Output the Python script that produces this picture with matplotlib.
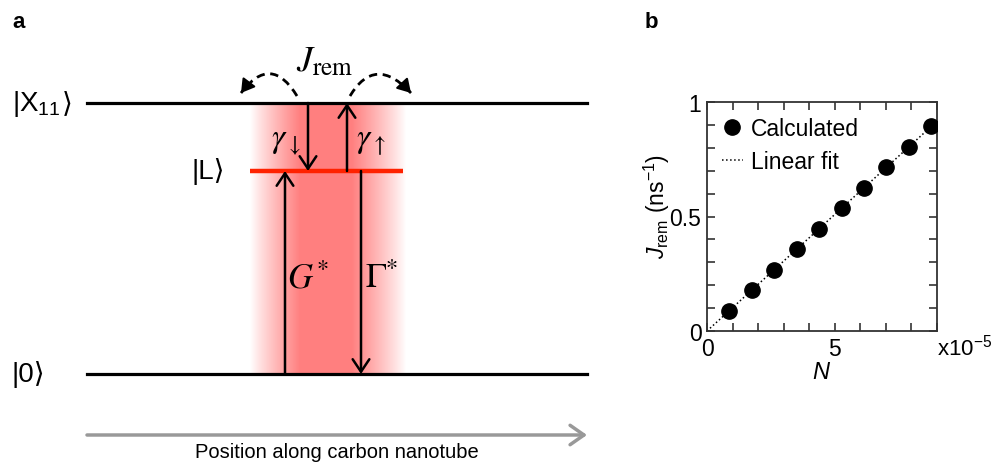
import numpy as np
import matplotlib
matplotlib.use("Agg")
import matplotlib.pyplot as plt
from matplotlib.path import Path
from matplotlib.patches import PathPatch, FancyArrowPatch

plt.rcParams['font.family'] = ['Liberation Sans', 'DejaVu Sans']
plt.rcParams['mathtext.fontset'] = 'custom'
plt.rcParams['mathtext.rm'] = 'Liberation Sans'
plt.rcParams['mathtext.it'] = 'Liberation Sans:italic'
plt.rcParams['mathtext.bf'] = 'Liberation Sans:bold'

# panel b data (N in units of 1e-5, J_rem in ns^-1)
N_vals = [0.88, 1.76, 2.63, 3.51, 4.40, 5.27, 6.14, 7.01, 7.89, 8.78]
J_vals = [0.087, 0.177, 0.267, 0.356, 0.446, 0.536, 0.626, 0.715, 0.805, 0.895]
fit_slope = 0.1018
xtick_vals = list(range(10))
xtick_labels = ['0', '', '', '', '', '5', '', '', '', '']
ytick_vals = [i / 10 for i in range(11)]
ytick_labels = ['0', '', '', '', '', '0.5', '', '', '', '', '1']

# panel a level names
level_names = [r"$|\mathrm{X}_{11}$", "|L⟩", "|0⟩"]

W, H = 992, 464
fig = plt.figure(figsize=(W / 100, H / 100), dpi=100)

# ---------------- panel a : drawn in pixel coords ----------------
ax = fig.add_axes([0, 0, 1, 1])
ax.set_xlim(0, W)
ax.set_ylim(H, 0)
ax.axis('off')

yX, yL, y0 = 104, 172, 375
xl, xr = 87, 587

# red glow band
bx0, bx1 = 250, 406
xs = np.linspace(bx0, bx1, 300)
alpha = np.interp(xs, [bx0, 300, 352, bx1], [0, 1, 1, 0]) ** 0.9
img = np.zeros((2, len(xs), 4))
img[..., 0] = 1.0
img[..., 1] = 0.5
img[..., 2] = 0.5
img[..., 3] = alpha
ax.imshow(img, extent=(bx0, bx1, y0, yX), aspect='auto', interpolation='bilinear', zorder=1)

# levels
ax.plot([xl, xr], [yX, yX], color='black', lw=2.3, zorder=3)
ax.plot([xl, xr], [y0, y0], color='black', lw=2.3, zorder=3)
ax.plot([250, 403], [yL, yL], color='#ff2200', lw=3.2, zorder=3, solid_capstyle='butt')

tX = ax.text(12, yX, level_names[0], fontsize=20, ha='left', va='center')
ax.annotate("⟩", xy=(1, 0.5), xycoords=tX, xytext=(1, 0), textcoords='offset points',
            fontsize=20, ha='left', va='center')
ax.text(192, yL, level_names[1], fontsize=20, ha='left', va='center')
ax.text(12, y0, level_names[2], fontsize=20, ha='left', va='center')


def varrow(x, ya, yb):
    a = FancyArrowPatch((x, ya), (x, yb), arrowstyle='->,head_length=0.45,head_width=0.3',
                        mutation_scale=20, lw=1.8, color='black', shrinkA=0, shrinkB=0, zorder=4)
    ax.add_patch(a)


varrow(308, yX, yL)
varrow(347, yL, yX)
varrow(285, y0, yL)
varrow(361, yL, y0)

stix = dict(math_fontfamily='stix')
ax.text(271, 143, r"$\gamma_{\downarrow}$", fontsize=24, ha='left', va='center', **stix)
ax.text(356, 143, r"$\gamma_{\uparrow}$", fontsize=24, ha='left', va='center', **stix)
ax.text(287, 279, r"$G^{*}$", fontsize=25, ha='left', va='center', **stix)
ax.text(365, 279, r"$\Gamma^{*}$", fontsize=25, ha='left', va='center', **stix)
ax.text(296, 62, r"$J_{\mathrm{rem}}$", fontsize=26, ha='left', va='center', **stix)

# dashed hopping arcs
for p0, c, p2 in [((297, 97), (271, 54), (241, 94)), ((350, 97), (375, 55), (411, 94))]:
    path = Path([p0, c, p2], [Path.MOVETO, Path.CURVE3, Path.CURVE3])
    ax.add_patch(PathPatch(path, fill=False, lw=2.0, ls=(0, (3, 2)), color='black', zorder=4))
    d = np.array(p2) - np.array(c)
    start = np.array(p2) - 0.25 * d
    ax.add_patch(FancyArrowPatch(tuple(start), p2, arrowstyle='-|>,head_length=0.5,head_width=0.3',
                                 mutation_scale=16, lw=1.5, color='black', shrinkA=0, shrinkB=0, zorder=4))

# position axis
ax.add_patch(FancyArrowPatch((xl, 436), (xr, 436), arrowstyle='->,head_length=0.5,head_width=0.35',
                             mutation_scale=20, lw=2.5, color='#999999', shrinkA=0, shrinkB=0))
ax.text((xl + xr) / 2, 453, "Position along carbon nanotube", fontsize=14.5, ha='center', va='center')

ax.text(12, 22, "a", fontsize=16, fontweight='bold', ha='left', va='center')
ax.text(645, 22, "b", fontsize=16, fontweight='bold', ha='left', va='center')

# ---------------- panel b ----------------
bx = fig.add_axes([707 / W, (H - 332) / H, 230 / W, 229 / H])
bx.plot(N_vals, J_vals, 'o', color='black', ms=11, label='Calculated', zorder=3)
xfit = np.array([0, 9])
bx.plot(xfit, fit_slope * xfit, ':', color='black', lw=1.1, label='Linear fit', zorder=2)
bx.set_xlim(0, 9)
bx.set_ylim(0, 1)
bx.set_xticks(xtick_vals)
bx.set_xticklabels(xtick_labels)
bx.set_yticks(ytick_vals)
bx.set_yticklabels(ytick_labels)
bx.tick_params(direction='in', top=True, right=True, length=6, width=1.2, labelsize=16.5, pad=4, color='#333333')
for s in bx.spines.values():
    s.set_linewidth(1.3)
    s.set_color('#333333')
bx.set_xlabel(r"$N$", fontsize=17, labelpad=1)
bx.set_ylabel(r"$J_{\rm rem}$ (ns$^{-1}$)", fontsize=16.5)
bx.yaxis.set_label_coords(-0.15, 0.55)
bx.text(1.0, -0.07, r"x10$^{-5}$", transform=bx.transAxes, fontsize=16, ha='left', va='center')
bx.legend(loc='upper left', frameon=False, fontsize=16.5, handlelength=0.9, handletextpad=0.35,
          borderaxespad=0.45, labelspacing=0.42, borderpad=0.2)

fig.savefig("out.png", dpi=100)
